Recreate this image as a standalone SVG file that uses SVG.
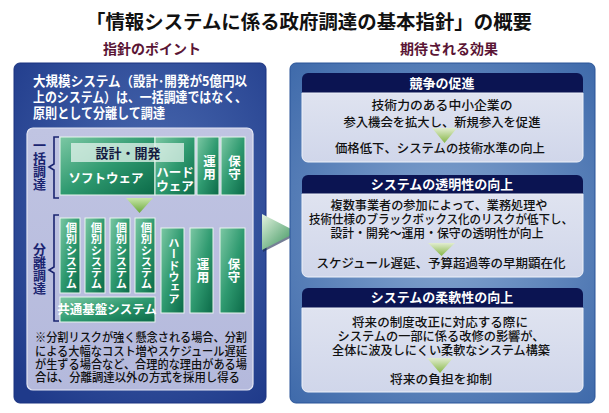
<svg xmlns="http://www.w3.org/2000/svg" width="609" height="413" viewBox="0 0 609 413">
<defs>
<style>
text{font-family:"Noto Sans CJK JP","Noto Sans",sans-serif;}
.title{font-size:19px;font-weight:700;fill:#111;}
.sub{font-size:14px;font-weight:700;fill:#5a1535;}
.wt{font-size:13.5px;font-weight:700;fill:#fff;}
.gw{font-size:12.5px;font-weight:700;fill:#fff;}
.gs{font-size:11.3px;font-weight:700;fill:#fff;}
.vt{writing-mode:vertical-rl;text-orientation:upright;}
.lab{font-size:13px;font-weight:700;fill:#1a2470;}
.note{font-size:12px;font-weight:500;fill:#111;}
.hd{font-size:13px;font-weight:700;fill:#fff;text-anchor:middle;}
.bd{font-size:12.5px;font-weight:500;fill:#111;text-anchor:middle;}
.green{fill:url(#gGreen);stroke:#e8f6ee;stroke-width:1;}
.hdr{fill:#0b1452;}
.body{fill:url(#gBody);stroke:#eef2fa;stroke-width:1;}
.br{fill:none;stroke:#1a2470;stroke-width:1.6;}
.tri{fill:url(#gTri);opacity:0.85;}
</style>
<radialGradient id="gLeft" cx="0.55" cy="0.4" r="0.75">
<stop offset="0" stop-color="#4d6db2"/>
<stop offset="1" stop-color="#1f3a8a"/>
</radialGradient>
<radialGradient id="gRight" cx="0.5" cy="0.5" r="0.75">
<stop offset="0" stop-color="#86a6d0"/>
<stop offset="1" stop-color="#3a66a8"/>
</radialGradient>
<linearGradient id="gInner" x1="0" y1="0" x2="0" y2="1">
<stop offset="0" stop-color="#c0c4e2"/>
<stop offset="1" stop-color="#b4b9dc"/>
</linearGradient>
<linearGradient id="gGreen" x1="0" y1="0" x2="1" y2="1">
<stop offset="0" stop-color="#7cc8a4"/>
<stop offset="0.5" stop-color="#2f9a70"/>
<stop offset="1" stop-color="#0b6a48"/>
</linearGradient>
<linearGradient id="gBody" x1="0" y1="0" x2="0" y2="1">
<stop offset="0" stop-color="#dfe3f0"/>
<stop offset="1" stop-color="#d0d6ea"/>
</linearGradient>
<linearGradient id="gTri" x1="0" y1="0" x2="0" y2="1">
<stop offset="0" stop-color="#e4f0cc"/>
<stop offset="1" stop-color="#78b028"/>
</linearGradient>
<linearGradient id="gDown" x1="0" y1="0" x2="0" y2="1">
<stop offset="0" stop-color="#c8e6a8"/>
<stop offset="1" stop-color="#6aa83a"/>
</linearGradient>
<linearGradient id="gArrow" x1="0" y1="0" x2="1" y2="1">
<stop offset="0" stop-color="#e4f4e0"/>
<stop offset="1" stop-color="#2a8a50"/>
</linearGradient>
</defs>

<rect width="609" height="413" fill="#fff"/>

<g id="title">
<text class="title" x="309" y="29" text-anchor="middle" textLength="446" lengthAdjust="spacingAndGlyphs">「情報システムに係る政府調達の基本指針」の概要</text>
<text class="sub" x="152" y="54" text-anchor="middle">指針のポイント</text>
<text class="sub" x="449" y="54" text-anchor="middle">期待される効果</text>
</g>

<g id="left-panel">
<rect x="14" y="63" width="252" height="340" rx="6" fill="url(#gLeft)" stroke="#1a3280" stroke-width="1"/>
<text class="wt" x="33" y="86" textLength="214" lengthAdjust="spacingAndGlyphs">大規模システム（設計･開発が5億円以</text>
<text class="wt" x="33" y="102" textLength="214" lengthAdjust="spacingAndGlyphs">上のシステム）は、一括調達ではなく、</text>
<text class="wt" x="33" y="118" textLength="132" lengthAdjust="spacingAndGlyphs">原則として分離して調達</text>
<rect x="27" y="128" width="226" height="262" rx="6" fill="url(#gInner)" stroke="#e4e6f4" stroke-width="1.2"/>
</g>

<g id="ikkatsu">
<text class="lab vt" x="39.5" y="139">一括調達</text>
<path class="br" d="M59,137 H54 V164 L49,167 L54,170 V198 H59"/>
<rect class="green" x="60" y="137" width="95" height="58"/>
<rect class="green" x="155" y="137" width="40" height="58"/>
<rect class="green" x="197" y="137" width="22" height="58"/>
<rect class="green" x="221" y="137" width="24" height="58"/>
<rect x="71" y="143" width="113" height="19" fill="#e6f4ee" opacity="0.75"/>
<text x="128" y="157.5" font-size="13" font-weight="700" fill="#141a40" text-anchor="middle">設計・開発</text>
<text class="gw" x="106" y="183" text-anchor="middle">ソフトウェア</text>
<text class="gw" x="175" y="177" text-anchor="middle">ハード</text>
<text class="gw" x="175" y="191" text-anchor="middle">ウェア</text>
<text class="gw vt" x="209.5" y="155">運用</text>
<text class="gw vt" x="234.5" y="155">保守</text>
</g>

<g id="down-arrow">
<polygon points="126,198 153,198 139.5,213" fill="url(#gDown)"/>
</g>

<g id="bunri">
<text class="lab vt" x="39.5" y="243">分離調達</text>
<path class="br" d="M59,215 H54 V267 L49,270 L54,273 V321 H59"/>
<rect class="green" x="60" y="218" width="20" height="75"/>
<text class="gs vt" x="71.5" y="222">個別システム</text>
<rect class="green" x="85" y="218" width="20" height="75"/>
<text class="gs vt" x="96.5" y="222">個別システム</text>
<rect class="green" x="110" y="218" width="20" height="75"/>
<text class="gs vt" x="121.5" y="222">個別システム</text>
<rect class="green" x="135" y="218" width="20" height="75"/>
<text class="gs vt" x="146.5" y="222">個別システム</text>
<rect class="green" x="60" y="297" width="95" height="25"/>
<text class="gw" x="107" y="314" text-anchor="middle">共通基盤システム</text>
<rect class="green" x="161" y="228" width="23" height="85"/>
<text class="gs vt" x="174" y="237">ハードウェア</text>
<rect class="green" x="190" y="228" width="23" height="85"/>
<text class="gw vt" x="203" y="258">運用</text>
<rect class="green" x="220" y="228" width="25" height="85"/>
<text class="gw vt" x="234" y="258">保守</text>
</g>

<g id="note">
<text class="note" x="35" y="342" textLength="212" lengthAdjust="spacingAndGlyphs">※分割リスクが強く懸念される場合、分割</text>
<text class="note" x="35" y="356" textLength="212" lengthAdjust="spacingAndGlyphs">による大幅なコスト増やスケジュール遅延</text>
<text class="note" x="35" y="369" textLength="212" lengthAdjust="spacingAndGlyphs">が生ずる場合など、合理的な理由がある場</text>
<text class="note" x="35" y="382" textLength="205" lengthAdjust="spacingAndGlyphs">合は、分離調達以外の方式を採用し得る</text>
</g>

<g id="connectors">
<polygon points="263,216 263,252 298,234" fill="#1a2a50" opacity="0.6"/>
<polygon points="262,214 262,250 297,232" fill="url(#gArrow)"/>
</g>

<g id="right-panel">
<rect x="290" y="63" width="305" height="340" rx="6" fill="url(#gRight)" stroke="#2a5598" stroke-width="1"/>
</g>

<g id="effect1">
<path class="hdr" d="M302,93 V79 a6,6 0 0 1 6,-6 H577 a6,6 0 0 1 6,6 V93 Z"/>
<path class="body" d="M302,93 H583 V156 a6,6 0 0 1 -6,6 H308 a6,6 0 0 1 -6,-6 Z"/>
<text class="hd" x="442" y="88">競争の促進</text>
<text class="bd" x="442" y="110" textLength="141" lengthAdjust="spacingAndGlyphs">技術力のある中小企業の</text>
<text class="bd" x="442" y="127" textLength="197" lengthAdjust="spacingAndGlyphs">参入機会を拡大し、新規参入を促進</text>
<polygon class="tri" points="432,128 457,128 444.5,143"/>
<text class="bd" x="440" y="153" textLength="210" lengthAdjust="spacingAndGlyphs">価格低下、システムの技術水準の向上</text>
</g>

<g id="effect2">
<path class="hdr" d="M302,194 V181 a6,6 0 0 1 6,-6 H577 a6,6 0 0 1 6,6 V194 Z"/>
<path class="body" d="M302,194 H583 V271 a6,6 0 0 1 -6,6 H308 a6,6 0 0 1 -6,-6 Z"/>
<text class="hd" x="442" y="189">システムの透明性の向上</text>
<text class="bd" x="439" y="210" textLength="217" lengthAdjust="spacingAndGlyphs">複数事業者の参加によって、業務処理や</text>
<text class="bd" x="441" y="224" textLength="264" lengthAdjust="spacingAndGlyphs">技術仕様のブラックボックス化のリスクが低下し、</text>
<text class="bd" x="437" y="238" textLength="213" lengthAdjust="spacingAndGlyphs">設計・開発～運用・保守の透明性が向上</text>
<polygon class="tri" points="428,243 455,243 441.5,256"/>
<text class="bd" x="441" y="268" textLength="249" lengthAdjust="spacingAndGlyphs">スケジュール遅延、予算超過等の早期顕在化</text>
</g>

<g id="effect3">
<path class="hdr" d="M302,308 V294 a6,6 0 0 1 6,-6 H577 a6,6 0 0 1 6,6 V308 Z"/>
<path class="body" d="M302,308 H583 V386 a6,6 0 0 1 -6,6 H308 a6,6 0 0 1 -6,-6 Z"/>
<text class="hd" x="442" y="302">システムの柔軟性の向上</text>
<text class="bd" x="440" y="327" textLength="176" lengthAdjust="spacingAndGlyphs">将来の制度改正に対応する際に</text>
<text class="bd" x="441" y="341" textLength="207" lengthAdjust="spacingAndGlyphs">システムの一部に係る改修の影響が、</text>
<text class="bd" x="441" y="355" textLength="218" lengthAdjust="spacingAndGlyphs">全体に波及しにくい柔軟なシステム構築</text>
<polygon class="tri" points="427,358 453,358 440,373"/>
<text class="bd" x="441" y="384" textLength="102" lengthAdjust="spacingAndGlyphs">将来の負担を抑制</text>
</g>
</svg>
